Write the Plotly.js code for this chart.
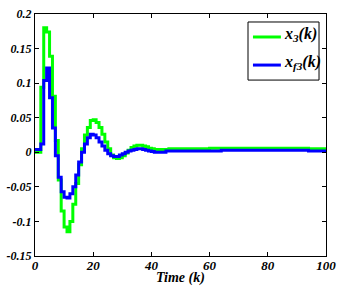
<!DOCTYPE html>
<html>
<head>
<meta charset="utf-8">
<script src="https://cdn.plot.ly/plotly-3.0.1.min.js"></script>
<style>html,body{margin:0;padding:0;background:#fff;}#chart{width:342px;height:286px;}</style>
</head>
<body>
<div id="chart"></div>
<script>
// time steps k = 0..100
const k = Array.from({length: 101}, (_, i) => i);

// x3(k) (green)
const x3 = [
  0, 0, 0.094, 0.18, 0.174, 0.139, 0.081, 0.017, -0.04, -0.085,
  -0.108, -0.115, -0.1, -0.075, -0.045, -0.018, 0.005, 0.025, 0.036, 0.046,
  0.047, 0.043, 0.036, 0.026, 0.015, 0.005, -0.004, -0.008, -0.009, -0.008,
  -0.005, -0.001, 0.003, 0.007, 0.009, 0.01, 0.01, 0.009, 0.008, 0.006,
  0.005, 0.004, 0.004, 0.004, 0.004, 0.004, 0.005, 0.005, 0.005, 0.005,
  0.005, 0.005, 0.005, 0.005, 0.005, 0.005, 0.005, 0.005, 0.005, 0.005,
  0.006, 0.006, 0.006, 0.006, 0.006, 0.006, 0.006, 0.006, 0.006, 0.006,
  0.006, 0.006, 0.006, 0.006, 0.006, 0.006, 0.006, 0.006, 0.006, 0.006,
  0.006, 0.006, 0.006, 0.006, 0.006, 0.006, 0.006, 0.006, 0.006, 0.006,
  0.006, 0.006, 0.006, 0.006, 0.005, 0.005, 0.005, 0.005, 0.005, 0.005,
  0.005
];

// xf3(k) (blue)
const xf3 = [
  0.004, 0.004, 0.012, 0.104, 0.122, 0.079, 0.035, -0.005, -0.036, -0.057,
  -0.065, -0.066, -0.06, -0.05, -0.033, -0.014, 0.0, 0.012, 0.021, 0.026,
  0.025, 0.021, 0.015, 0.009, 0.003, -0.002, -0.005, -0.006, -0.006, -0.004,
  -0.002, 0.0, 0.002, 0.003, 0.004, 0.005, 0.005, 0.004, 0.003, 0.002,
  0.001, 0.0, 0.0, 0.0, 0.0, 0.002, 0.002, 0.002, 0.002, 0.002,
  0.002, 0.002, 0.002, 0.002, 0.002, 0.002, 0.002, 0.002, 0.002, 0.002,
  0.002, 0.002, 0.002, 0.002, 0.003, 0.003, 0.003, 0.003, 0.003, 0.003,
  0.003, 0.003, 0.003, 0.003, 0.003, 0.003, 0.003, 0.003, 0.003, 0.003,
  0.003, 0.003, 0.003, 0.003, 0.003, 0.003, 0.003, 0.003, 0.003, 0.003,
  0.003, 0.003, 0.003, 0.003, 0.002, 0.002, 0.002, 0.002, 0.002, 0.002,
  0.002
];

const seriesNames = ["x<sub>3</sub>(k)", "x<sub>f3</sub>(k)"];
const seriesColors = ["#00ff00", "#0000ff"];
const xTicks = [0, 20, 40, 60, 80, 100];
const yTicks = [-0.15, -0.1, -0.05, 0, 0.05, 0.1, 0.15, 0.2];
const yTickText = ["-0.15", "-0.1", "-0.05", "0", "0.05", "0.1", "0.15", "0.2"];

const FAM = "Liberation Serif, serif";

const traces = [
  {x: k, y: x3, type: "scatter", mode: "lines", line: {shape: "hv", color: seriesColors[0], width: 3},
   name: seriesNames[0], showlegend: false},
  {x: k, y: xf3, type: "scatter", mode: "lines", line: {shape: "hv", color: seriesColors[1], width: 3},
   name: seriesNames[1], showlegend: false}
];

// custom legend (box, line samples, labels) in paper coordinates
const legX0 = 0.732, legX1 = 0.976, legY0 = 0.727, legY1 = 0.967;
const sampleX0 = 0.749, sampleX1 = 0.845, textX = 0.849;
const rowY = [0.905, 0.789];

const shapes = [
  {type: "rect", xref: "paper", yref: "paper", x0: legX0, x1: legX1, y0: legY0, y1: legY1,
   line: {color: "#000", width: 1}, fillcolor: "#fff", layer: "above"}
];
const annotations = [];
seriesNames.forEach((nm, i) => {
  shapes.push({type: "line", xref: "paper", yref: "paper", x0: sampleX0, x1: sampleX1, y0: rowY[i], y1: rowY[i],
    line: {color: seriesColors[i], width: 3}, layer: "above"});
  annotations.push({xref: "paper", yref: "paper", x: textX, y: rowY[i] + 0.01, xanchor: "left", yanchor: "middle",
    text: nm, showarrow: false, font: {family: FAM, size: 16, color: "#000", weight: "bold", style: "italic"}});
});

const layout = {
  width: 342, height: 286,
  margin: {l: 35, r: 16, t: 14, b: 30, pad: 0},
  paper_bgcolor: "#fff", plot_bgcolor: "#fff",
  showlegend: false,
  shapes: shapes,
  annotations: annotations,
  xaxis: {
    range: [0, 100], tickvals: xTicks, ticktext: xTicks.map(String),
    ticks: "inside", ticklen: 4, tickcolor: "#000", ticklabelstandoff: -3,
    showline: true, linecolor: "#000", linewidth: 1, mirror: "ticks",
    showgrid: false, zeroline: false,
    tickfont: {family: FAM, size: 13, color: "#000", weight: "bold", style: "italic"},
    title: {text: "Time (k)", font: {family: FAM, size: 14, color: "#000", weight: "bold", style: "italic"}, standoff: 0}
  },
  yaxis: {
    range: [-0.15, 0.2], tickvals: yTicks, ticktext: yTickText,
    ticks: "inside", ticklen: 4, tickcolor: "#000",
    showline: true, linecolor: "#000", linewidth: 1, mirror: "ticks",
    showgrid: false, zeroline: false,
    tickfont: {family: FAM, size: 12, color: "#000", weight: "bold", style: "italic"}
  }
};

Plotly.newPlot("chart", traces, layout, {displayModeBar: false, staticPlot: true});
</script>
</body>
</html>
